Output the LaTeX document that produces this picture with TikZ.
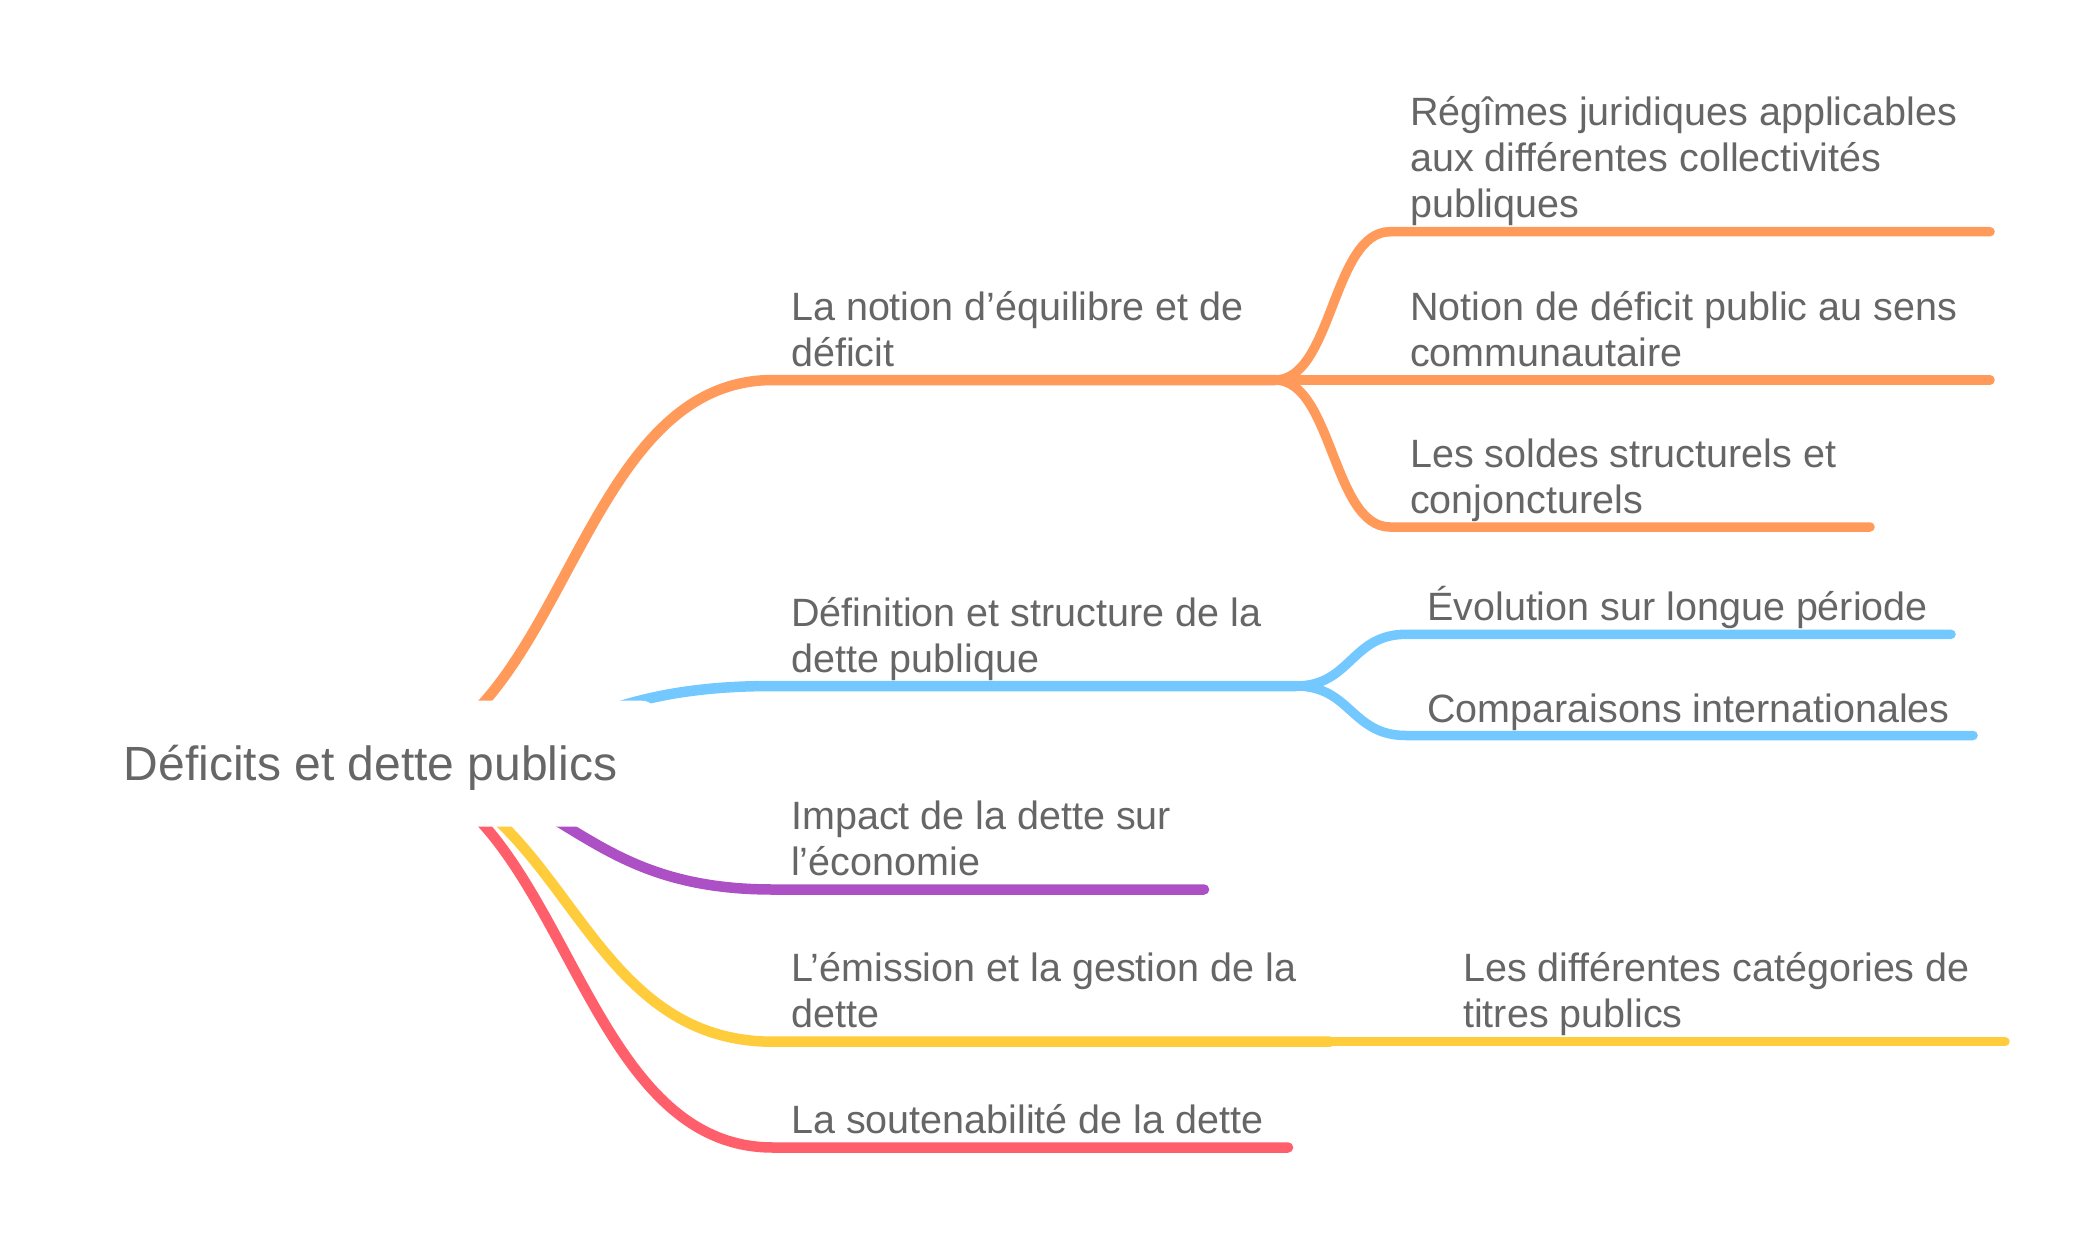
\documentclass[tikz,border=0pt]{standalone}
\usepackage{fontspec}
\setmainfont{Liberation Sans}
\definecolor{cor}{HTML}{FF9A5B}
\definecolor{cbl}{HTML}{73C8FF}
\definecolor{cpu}{HTML}{AD50C6}
\definecolor{cye}{HTML}{FFCC3C}
\definecolor{cre}{HTML}{FF5F6B}
\definecolor{txt}{HTML}{666666}
\newcommand\twol[2]{\vbox{\hbox{#1}\hbox{#2}}}
\newcommand\threel[3]{\vbox{\hbox{#1}\hbox{#2}\hbox{#3}}}
\begin{document}
\begin{tikzpicture}[x=1pt,y=-1pt,
  lone/.style={line width=10.5pt,line cap=round},
  ltwo/.style={line width=9.5pt,line cap=round},
  lbl/.style={anchor=base west,inner sep=0pt,text=txt,font=\fontsize{39.5}{46}\selectfont},
  rootbox/.style={fill=white,rounded corners=15pt,inner sep=0pt,minimum width=573pt,minimum height=126pt,text height=34pt,text depth=0pt,text=txt,font=\fontsize{48}{56}\selectfont}]
\useasboundingbox[fill=white] (0,0) rectangle (2088,1234);

% anchor points of the underlines
\coordinate (src) at (360,763.7);
\coordinate (a1s) at (773,380);    \coordinate (a1e) at (1275,380);
\coordinate (a11s) at (1390,231.7); \coordinate (a11e) at (1990,231.7);
\coordinate (a12s) at (1390,380);   \coordinate (a12e) at (1990,380);
\coordinate (a13s) at (1390,527);   \coordinate (a13e) at (1870,527);
\coordinate (b1s) at (773,686);    \coordinate (b1e) at (1296,686);
\coordinate (b11s) at (1406,634.3); \coordinate (b11e) at (1951,634.3);
\coordinate (b12s) at (1406,735.5); \coordinate (b12e) at (1973,735.5);
\coordinate (c1s) at (773,889.5);  \coordinate (c1e) at (1204,889.5);
\coordinate (d1s) at (773,1041.7); \coordinate (d1e) at (1330,1041.7);
\coordinate (d11s) at (1443,1041.7); \coordinate (d11e) at (2005,1041.7);
\coordinate (e1s) at (773,1147.5); \coordinate (e1e) at (1288,1147.5);

% orange branch
\draw[lone,cor] (src) .. controls (566.5,763.7) and (566.5,380) .. (a1s) -- (a1e);
\draw[ltwo,cor] (a1e) .. controls (1332.5,380) and (1332.5,231.7) .. (a11s) -- (a11e);
\draw[ltwo,cor] (a1e) -- (a12s) -- (a12e);
\draw[ltwo,cor] (a1e) .. controls (1332.5,380) and (1332.5,527) .. (a13s) -- (a13e);
% blue branch
\draw[lone,cbl] (src) .. controls (566.5,763.7) and (566.5,686) .. (b1s) -- (b1e);
\draw[ltwo,cbl] (b1e) .. controls (1351,686) and (1351,634.3) .. (b11s) -- (b11e);
\draw[ltwo,cbl] (b1e) .. controls (1351,686) and (1351,735.5) .. (b12s) -- (b12e);
% purple branch
\draw[lone,cpu] (src) .. controls (566.5,763.7) and (566.5,889.5) .. (c1s) -- (c1e);
% yellow branch
\draw[lone,cye] (src) .. controls (566.5,763.7) and (566.5,1041.7) .. (d1s) -- (d1e);
\draw[ltwo,cye] (d1e) -- (d11s) -- (d11e);
% red branch
\draw[lone,cre] (src) .. controls (566.5,763.7) and (566.5,1147.5) .. (e1s) -- (e1e);

% labels
\node[lbl] (a1) at ([shift={(18,-14)}]a1s) {\twol{La notion d’équilibre et de}{déficit}};
\node[lbl] (a11) at ([shift={(20,-14)}]a11s) {\threel{Régîmes juridiques applicables}{aux différentes collectivités}{publiques}};
\node[lbl] (a12) at ([shift={(20,-14)}]a12s) {\twol{Notion de déficit public au sens}{communautaire}};
\node[lbl] (a13) at ([shift={(20,-14)}]a13s) {\twol{Les soldes structurels et}{conjoncturels}};
\node[lbl] (b1) at ([shift={(18,-14)}]b1s) {\twol{Définition et structure de la}{dette publique}};
\node[lbl] (b11) at ([shift={(21,-13.5)}]b11s) {Évolution sur longue période};
\node[lbl] (b12) at ([shift={(21,-13.5)}]b12s) {Comparaisons internationales};
\node[lbl] (c1) at ([shift={(18,-14)}]c1s) {\twol{Impact de la dette sur}{l’économie}};
\node[lbl] (d1) at ([shift={(18,-14)}]d1s) {\twol{L’émission et la gestion de la}{dette}};
\node[lbl] (d11) at ([shift={(20,-14.5)}]d11s) {\twol{Les différentes catégories de}{titres publics}};
\node[lbl] (e1) at ([shift={(18,-14)}]e1s) {La soutenabilité de la dette};

% root
\node[rootbox] (root) at (370.5,763.7) {Déficits et dette publics};
\end{tikzpicture}
\end{document}
